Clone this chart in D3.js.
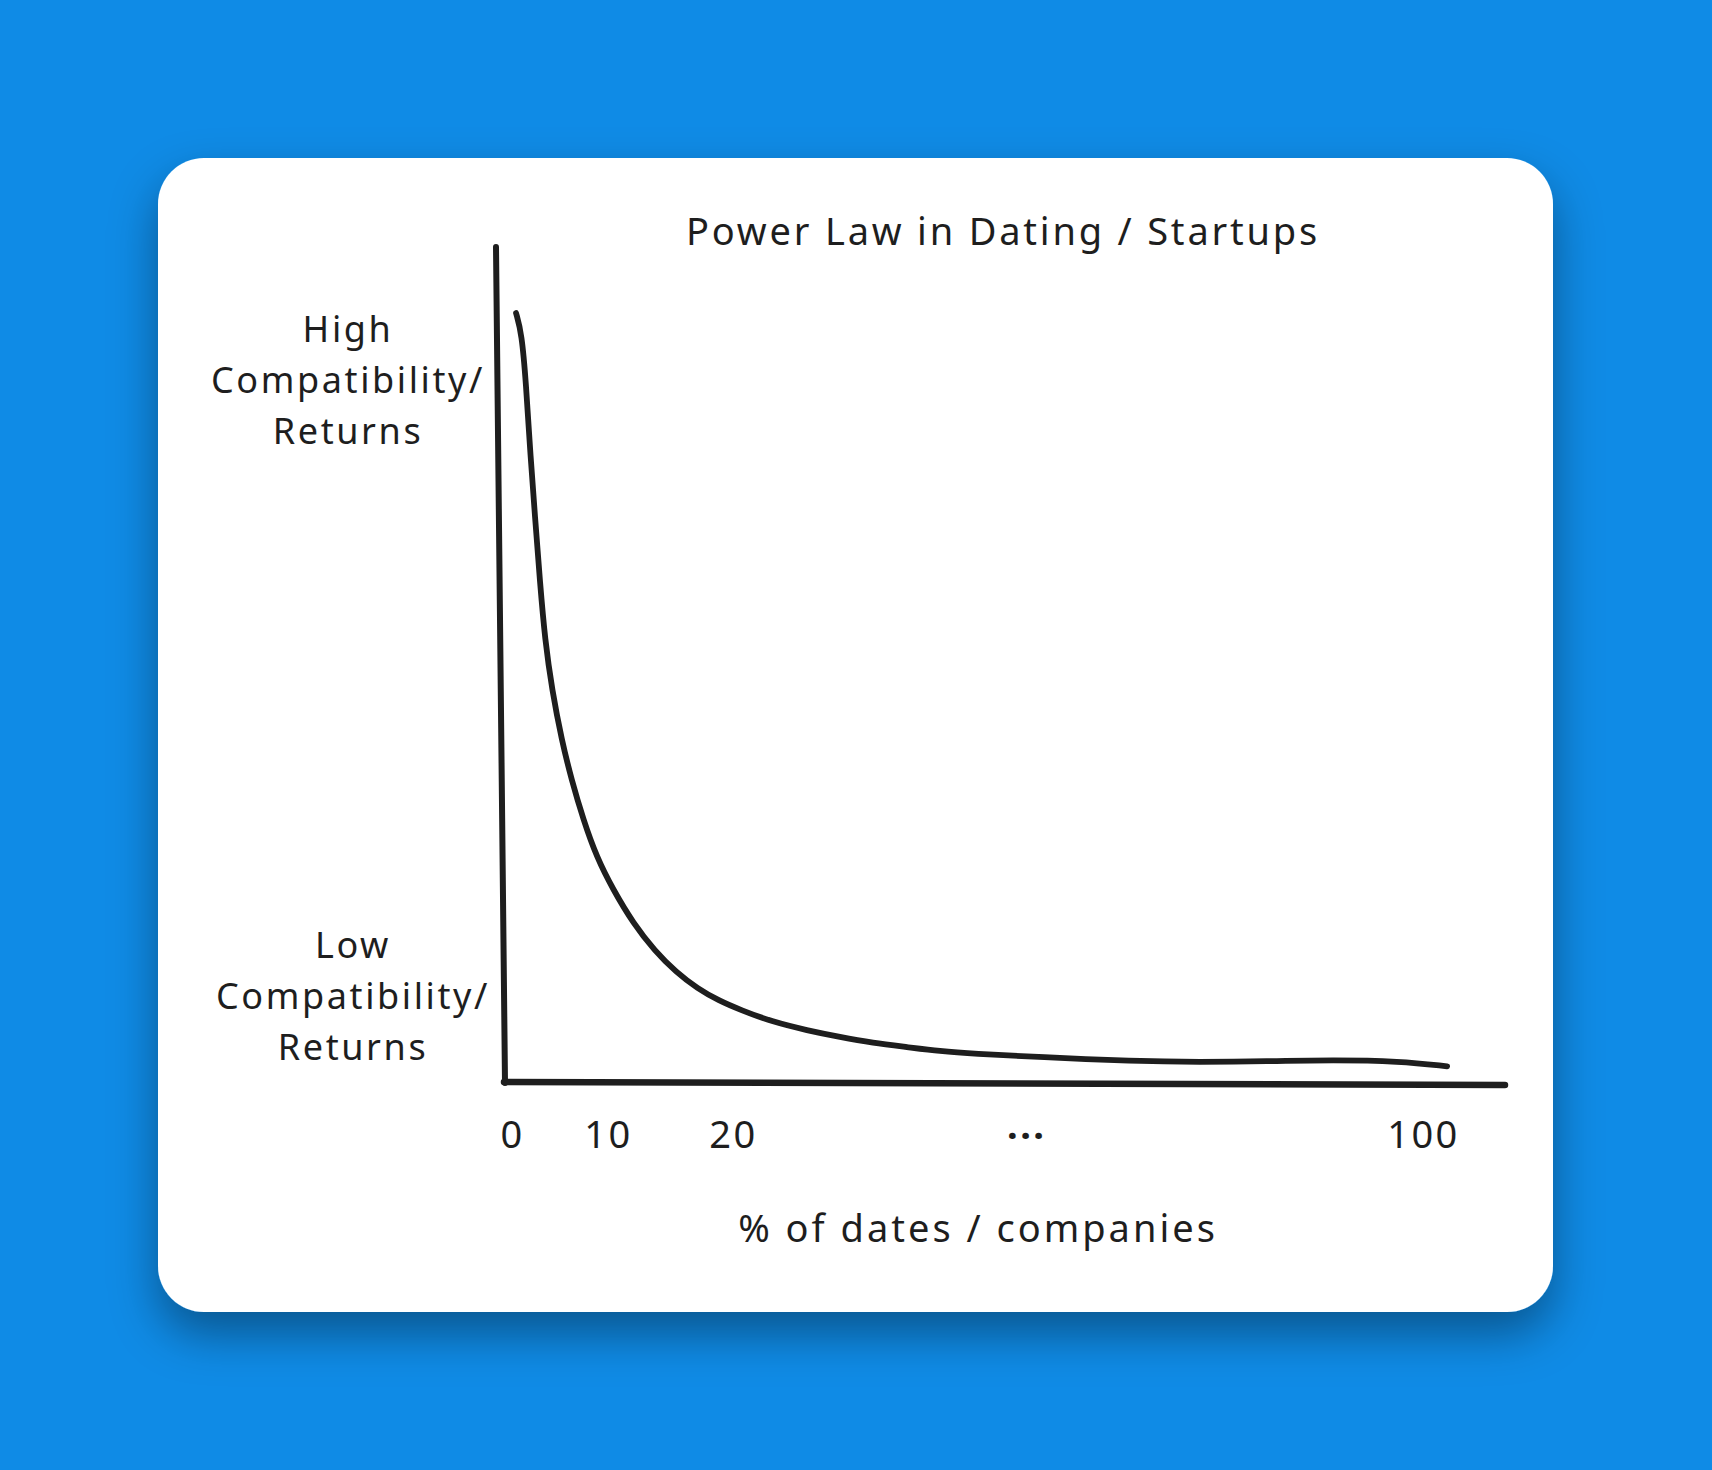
<!DOCTYPE html>
<html>
<head>
<meta charset="utf-8">
<script src="https://cdn.jsdelivr.net/npm/d3@7"></script>
<style>
  html, body { margin: 0; padding: 0; background: #0f8be6; }
  svg { display: block; }
</style>
</head>
<body>
<div id="chart"></div>
<script>
// Power law curve (x = % of dates/companies, y = compatibility/returns)
const curveX = [0.42, 1.01, 1.46, 1.88, 2.4, 2.92, 3.44, 4.17, 5.18, 6.22, 7.43, 8.82, 10.42, 12.02, 13.74, 15.45, 17.16, 18.87, 20.85, 24.6, 28.6, 32.4, 36.2, 40.2, 44.0, 47.8, 55.6, 66.4, 74.1, 81.9, 89.6, 97.3, 102.8];
const curveY = [92.1, 89.7, 83.7, 75.7, 67.7, 59.8, 53.0, 47.0, 41.0, 36.2, 31.5, 27.0, 23.1, 19.1, 15.81, 13.25, 11.3, 9.85, 8.75, 7.3, 6.3, 5.5, 4.8, 4.3, 3.8, 3.5, 3.1, 2.6, 2.5, 2.6, 2.75, 2.6, 2.0];

const xTickValues = [0, 10, 20, 54, 100];
const xTickLabels = ["0", "10", "20", "...", "100"];

const yLabelHigh = ["High", "Compatibility/", "Returns"];
const yLabelLow = ["Low", "Compatibility/", "Returns"];

const chartTitle = "Power Law in Dating / Startups";
const xTitle = "% of dates / companies";

const width = 1712, height = 1470;
const ink = "#1e1e1e";
const font = "'Noto Sans', sans-serif";

const svg = d3.select("#chart")
    .append("svg")
    .attr("width", width)
    .attr("height", height);

const defs = svg.append("defs");
const shadow = defs.append("filter")
    .attr("id", "cardShadow")
    .attr("x", "-20%").attr("y", "-20%")
    .attr("width", "140%").attr("height", "150%");
shadow.append("feDropShadow")
    .attr("dx", 0).attr("dy", 22)
    .attr("stdDeviation", 24)
    .attr("flood-color", "#000")
    .attr("flood-opacity", 0.38);

// background + card
svg.append("rect")
    .attr("width", width).attr("height", height)
    .attr("fill", "#0f8be6");

svg.append("rect")
    .attr("x", 158).attr("y", 158)
    .attr("width", 1395).attr("height", 1154)
    .attr("rx", 46)
    .attr("fill", "#ffffff")
    .attr("filter", "url(#cardShadow)");

// scales: the sketched x axis is not evenly spaced, so use a piecewise scale
const x = d3.scaleLinear()
    .domain([0, 10, 20, 100])
    .range([512, 608, 733, 1423]);

const y = d3.scaleLinear()
    .domain([0, 100])
    .range([1083, 247]);

// axis lines (hand drawn look: slight lean)
const frame = svg.append("g")
    .attr("stroke", ink)
    .attr("stroke-linecap", "round")
    .attr("fill", "none");

frame.append("line")
    .attr("x1", x(0) - 16).attr("y1", y(100))
    .attr("x2", x(0) - 7).attr("y2", y(0))
    .attr("stroke-width", 6);

frame.append("line")
    .attr("x1", x(0) - 8).attr("y1", y(0) - 1)
    .attr("x2", x(100) + 82).attr("y2", y(0) + 2)
    .attr("stroke-width", 6.5);

// the curve
const line = d3.line()
    .x(d => x(d[0]))
    .y(d => y(d[1]))
    .curve(d3.curveBasis);

svg.append("path")
    .datum(d3.zip(curveX, curveY))
    .attr("fill", "none")
    .attr("stroke", ink)
    .attr("stroke-width", 5.8)
    .attr("stroke-linecap", "round")
    .attr("stroke-linejoin", "round")
    .attr("d", line);

// x tick labels
const xAxis = d3.axisBottom(x)
    .tickValues(xTickValues)
    .tickFormat((d, i) => xTickLabels[i])
    .tickSize(0)
    .tickPadding(0);

const gx = svg.append("g")
    .attr("transform", `translate(0,${y(0)})`)
    .call(xAxis);

gx.select(".domain").remove();
gx.selectAll("text")
    .attr("y", 65)
    .attr("dy", 0)
    .attr("fill", ink)
    .attr("font-family", font)
    .attr("font-size", 38)
    .attr("letter-spacing", 2.5)
    .filter((d, i) => xTickLabels[i] === "...")
    .attr("y", 56)
    .attr("font-weight", 700);

// titles
svg.append("text")
    .attr("x", 1003)
    .attr("y", 245)
    .attr("text-anchor", "middle")
    .attr("fill", ink)
    .attr("font-family", font)
    .attr("font-size", 38)
    .attr("letter-spacing", 2.8)
    .text(chartTitle);

svg.append("text")
    .attr("x", 978)
    .attr("y", 1242)
    .attr("text-anchor", "middle")
    .attr("fill", ink)
    .attr("font-family", font)
    .attr("font-size", 38)
    .attr("letter-spacing", 3)
    .text(xTitle);

// y side labels
function sideLabel(lines, cx, firstBaseline) {
    const t = svg.append("text")
        .attr("text-anchor", "middle")
        .attr("fill", ink)
        .attr("font-family", font)
        .attr("font-size", 36)
        .attr("letter-spacing", 2.6);
    t.selectAll("tspan")
        .data(lines)
        .join("tspan")
        .attr("x", cx)
        .attr("y", (d, i) => firstBaseline + i * 51)
        .text(d => d);
}

sideLabel(yLabelHigh, 348, 342);
sideLabel(yLabelLow, 353, 958);
</script>
</body>
</html>
